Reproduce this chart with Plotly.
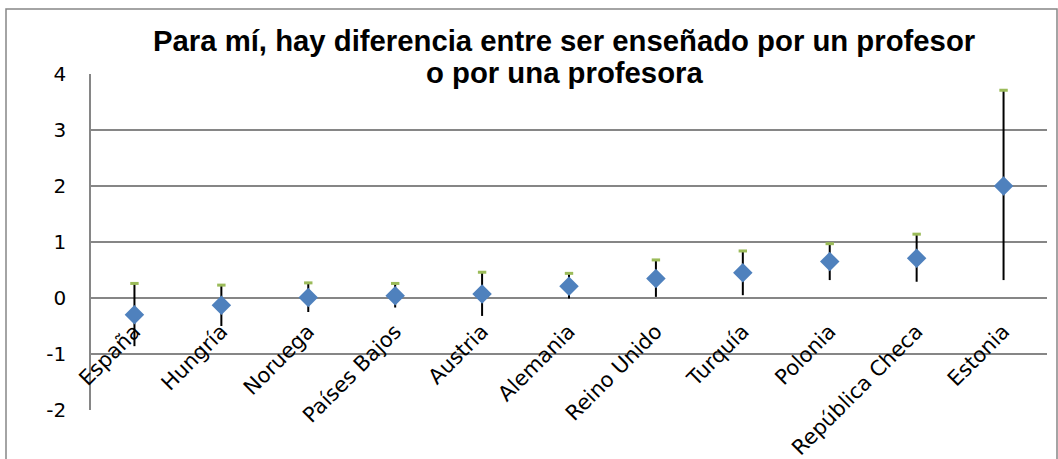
import plotly.graph_objects as go

countries = ["España", "Hungría", "Noruega", "Países Bajos", "Austria", "Alemania",
             "Reino Unido", "Turquía", "Polonia", "República Checa", "Estonia"]
mean_vals = [-0.30, -0.13, 0.01, 0.04, 0.07, 0.21, 0.35, 0.45, 0.65, 0.71, 2.00]
low_vals = [-0.86, -0.50, -0.25, -0.17, -0.32, -0.01, 0.02, 0.05, 0.32, 0.29, 0.32]
high_vals = [0.26, 0.23, 0.27, 0.26, 0.46, 0.44, 0.68, 0.84, 0.97, 1.14, 3.71]
y_ticks = [-2, -1, 0, 1, 2, 3, 4]
y_ticktext = ["-2", "-1", "0", "1", "2", "3", "4"]

title_lines = ["Para mí, hay diferencia entre ser enseñado por un profesor",
               "o por una profesora"]

W, H = 1058, 459
ml, mr, mt, mb = 91, 11, 74, 49
ymin, ymax = -2, 4

err_plus = [h - m for h, m in zip(high_vals, mean_vals)]
err_minus = [m - l for m, l in zip(mean_vals, low_vals)]

fig = go.Figure()
# high-low line
fig.add_trace(go.Scatter(
    x=countries, y=mean_vals, mode="markers",
    marker=dict(size=1, color="rgba(0,0,0,0)"),
    error_y=dict(type="data", symmetric=False, array=err_plus, arrayminus=err_minus,
                 color="black", thickness=2, width=0),
    hoverinfo="skip", showlegend=False))
# high marker (green dash)
fig.add_trace(go.Scatter(
    x=countries, y=high_vals, mode="markers",
    marker=dict(symbol="line-ew", size=6, line=dict(color="#9BBB59", width=3)),
    showlegend=False))
# mean diamond
fig.add_trace(go.Scatter(
    x=countries, y=mean_vals, mode="markers",
    marker=dict(symbol="diamond", size=15, color="#4F81BD", line=dict(width=0)),
    showlegend=False))

plot_h = H - mt - mb
plot_w = W - ml - mr
zero_frac = (0 - ymin) / (ymax - ymin)


def py(px):
    return (H - mb - px) / plot_h


def pxx(px):
    return (px - ml) / plot_w


title_centers_y = [41, 72]
annotations = [dict(text="<b>%s</b>" % t, xref="paper", yref="paper",
                    x=pxx(564), y=py(yc), xanchor="center", yanchor="middle",
                    showarrow=False,
                    font=dict(family="Liberation Sans, Arial", size=29.3, color="black"))
               for t, yc in zip(title_lines, title_centers_y)]

fig.update_layout(
    width=W, height=H,
    margin=dict(l=ml, r=mr, t=mt, b=mb, autoexpand=False),
    paper_bgcolor="white", plot_bgcolor="white",
    annotations=annotations,
    xaxis=dict(type="category", range=[-0.5, len(countries) - 0.5], automargin=False,
               showgrid=False, showline=False, zeroline=False, ticks="",
               tickangle=-45, anchor="free", position=zero_frac,
               ticklabelstandoff=16,
               tickfont=dict(family="DejaVu Sans", size=21, color="black")),
    yaxis=dict(range=[ymin, ymax], tickvals=y_ticks, ticktext=y_ticktext, automargin=False,
               showgrid=True, gridcolor="#868686", gridwidth=1.5, zeroline=False,
               showline=True, linecolor="#868686", linewidth=1.5,
               ticks="", ticklabelstandoff=19,
               tickfont=dict(family="DejaVu Sans", size=20, color="black")),
    shapes=[dict(type="rect", xref="paper", yref="paper",
                 x0=pxx(6), x1=pxx(1057), y0=py(H + 20), y1=py(9),
                 line=dict(color="#868686", width=1.5), layer="below")],
)

fig.write_html("out.html", config={"displayModeBar": False},
               post_script="document.body.style.margin='0';")
